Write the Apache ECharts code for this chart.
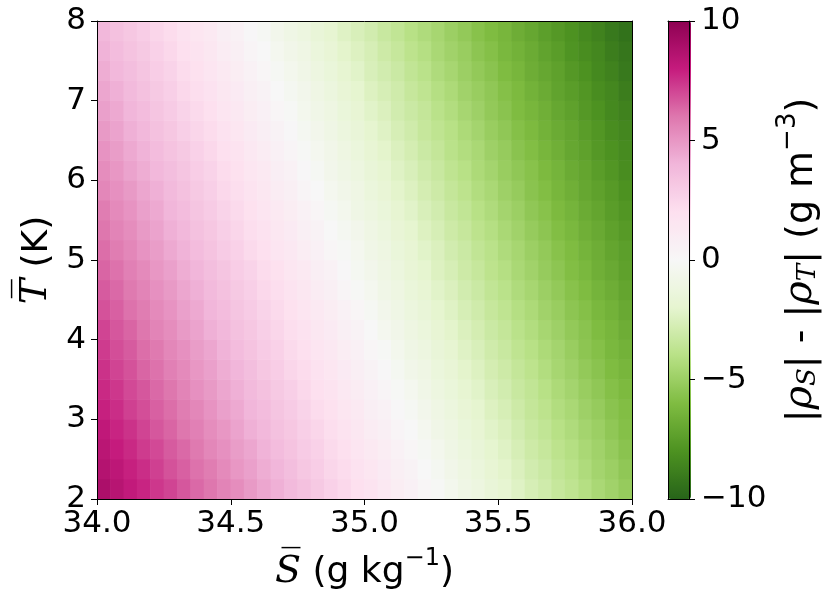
<!DOCTYPE html>
<html>
<head>
<meta charset="utf-8">
<script src="https://cdn.jsdelivr.net/npm/echarts@6/dist/echarts.min.js"></script>
<style>
html,body{margin:0;padding:0;background:#fff;}
#chart{width:822px;height:596px;}
</style>
</head>
<body>
<div id="chart"></div>
<script>
// Salinity cell centres (g kg-1)
const salinity = [34.025,34.075,34.125,34.175,34.225,34.275,34.325,34.375,34.425,34.475,
  34.525,34.575,34.625,34.675,34.725,34.775,34.825,34.875,34.925,34.975,
  35.025,35.075,35.125,35.175,35.225,35.275,35.325,35.375,35.425,35.475,
  35.525,35.575,35.625,35.675,35.725,35.775,35.825,35.875,35.925,35.975];
// Temperature cell centres (K)
const temperature = [2.125,2.375,2.625,2.875,3.125,3.375,3.625,3.875,4.125,4.375,4.625,4.875,
  5.125,5.375,5.625,5.875,6.125,6.375,6.625,6.875,7.125,7.375,7.625,7.875];
// |rho_S| - |rho_T| (g m-3); one row per temperature, one entry per salinity
const densityDiff = [
[8.9,8.5,8.1,7.8,7.4,7.1,6.7,6.3,6.0,5.6,5.3,4.9,4.5,4.2,3.8,3.5,3.1,2.7,2.4,2.0,1.7,1.3,0.9,0.6,0.2,-0.1,-0.5,-0.9,-1.2,-1.6,-1.9,-2.3,-2.7,-3.0,-3.4,-3.7,-4.1,-4.5,-4.8,-5.2],
[8.6,8.3,7.9,7.6,7.2,6.8,6.5,6.1,5.8,5.4,5.0,4.7,4.3,4.0,3.6,3.2,2.9,2.5,2.2,1.8,1.5,1.1,0.7,0.4,0.0,-0.3,-0.7,-1.1,-1.4,-1.8,-2.1,-2.5,-2.9,-3.2,-3.6,-3.9,-4.3,-4.7,-5.0,-5.4],
[8.4,8.0,7.7,7.3,7.0,6.6,6.3,5.9,5.5,5.2,4.8,4.5,4.1,3.7,3.4,3.0,2.7,2.3,2.0,1.6,1.2,0.9,0.5,0.2,-0.2,-0.5,-0.9,-1.3,-1.6,-2.0,-2.3,-2.7,-3.1,-3.4,-3.8,-4.1,-4.5,-4.8,-5.2,-5.6],
[8.2,7.8,7.5,7.1,6.7,6.4,6.0,5.7,5.3,5.0,4.6,4.2,3.9,3.5,3.2,2.8,2.5,2.1,1.7,1.4,1.0,0.7,0.3,0.0,-0.4,-0.8,-1.1,-1.5,-1.8,-2.2,-2.5,-2.9,-3.3,-3.6,-4.0,-4.3,-4.7,-5.0,-5.4,-5.8],
[7.9,7.6,7.2,6.9,6.5,6.2,5.8,5.5,5.1,4.7,4.4,4.0,3.7,3.3,3.0,2.6,2.2,1.9,1.5,1.2,0.8,0.5,0.1,-0.2,-0.6,-1.0,-1.3,-1.7,-2.0,-2.4,-2.7,-3.1,-3.5,-3.8,-4.2,-4.5,-4.9,-5.2,-5.6,-5.9],
[7.7,7.4,7.0,6.7,6.3,6.0,5.6,5.2,4.9,4.5,4.2,3.8,3.5,3.1,2.8,2.4,2.0,1.7,1.3,1.0,0.6,0.3,-0.1,-0.4,-0.8,-1.2,-1.5,-1.9,-2.2,-2.6,-2.9,-3.3,-3.6,-4.0,-4.4,-4.7,-5.1,-5.4,-5.8,-6.1],
[7.5,7.1,6.8,6.4,6.1,5.7,5.4,5.0,4.7,4.3,4.0,3.6,3.2,2.9,2.5,2.2,1.8,1.5,1.1,0.8,0.4,0.1,-0.3,-0.7,-1.0,-1.4,-1.7,-2.1,-2.4,-2.8,-3.1,-3.5,-3.8,-4.2,-4.6,-4.9,-5.3,-5.6,-6.0,-6.3],
[7.3,6.9,6.6,6.2,5.9,5.5,5.2,4.8,4.5,4.1,3.7,3.4,3.0,2.7,2.3,2.0,1.6,1.3,0.9,0.6,0.2,-0.1,-0.5,-0.9,-1.2,-1.6,-1.9,-2.3,-2.6,-3.0,-3.3,-3.7,-4.0,-4.4,-4.7,-5.1,-5.5,-5.8,-6.2,-6.5],
[7.1,6.7,6.4,6.0,5.6,5.3,4.9,4.6,4.2,3.9,3.5,3.2,2.8,2.5,2.1,1.8,1.4,1.1,0.7,0.4,0.0,-0.4,-0.7,-1.1,-1.4,-1.8,-2.1,-2.5,-2.8,-3.2,-3.5,-3.9,-4.2,-4.6,-4.9,-5.3,-5.6,-6.0,-6.3,-6.7],
[6.8,6.5,6.1,5.8,5.4,5.1,4.7,4.4,4.0,3.7,3.3,3.0,2.6,2.3,1.9,1.6,1.2,0.9,0.5,0.2,-0.2,-0.6,-0.9,-1.3,-1.6,-2.0,-2.3,-2.7,-3.0,-3.4,-3.7,-4.1,-4.4,-4.8,-5.1,-5.5,-5.8,-6.2,-6.5,-6.9],
[6.6,6.3,5.9,5.6,5.2,4.9,4.5,4.2,3.8,3.5,3.1,2.8,2.4,2.1,1.7,1.4,1.0,0.7,0.3,-0.1,-0.4,-0.8,-1.1,-1.5,-1.8,-2.2,-2.5,-2.9,-3.2,-3.6,-3.9,-4.3,-4.6,-5.0,-5.3,-5.7,-6.0,-6.4,-6.7,-7.1],
[6.4,6.1,5.7,5.4,5.0,4.7,4.3,4.0,3.6,3.3,2.9,2.6,2.2,1.9,1.5,1.2,0.8,0.5,0.1,-0.3,-0.6,-1.0,-1.3,-1.7,-2.0,-2.4,-2.7,-3.1,-3.4,-3.8,-4.1,-4.5,-4.8,-5.2,-5.5,-5.9,-6.2,-6.6,-6.9,-7.3],
[6.2,5.8,5.5,5.1,4.8,4.4,4.1,3.7,3.4,3.0,2.7,2.3,2.0,1.6,1.3,0.9,0.6,0.2,-0.1,-0.4,-0.8,-1.1,-1.5,-1.8,-2.2,-2.5,-2.9,-3.2,-3.6,-3.9,-4.3,-4.6,-5.0,-5.3,-5.7,-6.0,-6.4,-6.7,-7.1,-7.4],
[6.0,5.6,5.3,4.9,4.6,4.2,3.9,3.5,3.2,2.8,2.5,2.1,1.8,1.4,1.1,0.7,0.4,0.0,-0.3,-0.6,-1.0,-1.3,-1.7,-2.0,-2.4,-2.7,-3.1,-3.4,-3.8,-4.1,-4.5,-4.8,-5.2,-5.5,-5.9,-6.2,-6.6,-6.9,-7.3,-7.6],
[5.8,5.4,5.1,4.7,4.4,4.0,3.7,3.3,3.0,2.6,2.3,1.9,1.6,1.2,0.9,0.5,0.2,-0.2,-0.5,-0.9,-1.2,-1.5,-1.9,-2.2,-2.6,-2.9,-3.3,-3.6,-4.0,-4.3,-4.7,-5.0,-5.4,-5.7,-6.1,-6.4,-6.8,-7.1,-7.5,-7.8],
[5.5,5.2,4.9,4.5,4.2,3.8,3.5,3.1,2.8,2.4,2.1,1.7,1.4,1.0,0.7,0.3,0.0,-0.4,-0.7,-1.0,-1.4,-1.7,-2.1,-2.4,-2.8,-3.1,-3.5,-3.8,-4.2,-4.5,-4.9,-5.2,-5.6,-5.9,-6.3,-6.6,-7.0,-7.3,-7.6,-8.0],
[5.3,5.0,4.6,4.3,3.9,3.6,3.3,2.9,2.6,2.2,1.9,1.5,1.2,0.8,0.5,0.1,-0.2,-0.6,-0.9,-1.2,-1.6,-1.9,-2.3,-2.6,-3.0,-3.3,-3.7,-4.0,-4.4,-4.7,-5.1,-5.4,-5.7,-6.1,-6.4,-6.8,-7.1,-7.5,-7.8,-8.2],
[5.1,4.8,4.4,4.1,3.7,3.4,3.1,2.7,2.4,2.0,1.7,1.3,1.0,0.6,0.3,-0.1,-0.4,-0.7,-1.1,-1.4,-1.8,-2.1,-2.5,-2.8,-3.2,-3.5,-3.9,-4.2,-4.5,-4.9,-5.2,-5.6,-5.9,-6.3,-6.6,-7.0,-7.3,-7.7,-8.0,-8.3],
[4.9,4.6,4.2,3.9,3.5,3.2,2.8,2.5,2.2,1.8,1.5,1.1,0.8,0.4,0.1,-0.3,-0.6,-0.9,-1.3,-1.6,-2.0,-2.3,-2.7,-3.0,-3.4,-3.7,-4.0,-4.4,-4.7,-5.1,-5.4,-5.8,-6.1,-6.5,-6.8,-7.1,-7.5,-7.8,-8.2,-8.5],
[4.7,4.4,4.0,3.7,3.3,3.0,2.6,2.3,2.0,1.6,1.3,0.9,0.6,0.2,-0.1,-0.5,-0.8,-1.1,-1.5,-1.8,-2.2,-2.5,-2.9,-3.2,-3.5,-3.9,-4.2,-4.6,-4.9,-5.3,-5.6,-6.0,-6.3,-6.6,-7.0,-7.3,-7.7,-8.0,-8.4,-8.7],
[4.5,4.2,3.8,3.5,3.1,2.8,2.4,2.1,1.8,1.4,1.1,0.7,0.4,0.0,-0.3,-0.6,-1.0,-1.3,-1.7,-2.0,-2.4,-2.7,-3.0,-3.4,-3.7,-4.1,-4.4,-4.8,-5.1,-5.4,-5.8,-6.1,-6.5,-6.8,-7.2,-7.5,-7.8,-8.2,-8.5,-8.9],
[4.3,3.9,3.6,3.3,2.9,2.6,2.2,1.9,1.6,1.2,0.9,0.5,0.2,-0.2,-0.5,-0.8,-1.2,-1.5,-1.9,-2.2,-2.6,-2.9,-3.2,-3.6,-3.9,-4.3,-4.6,-5.0,-5.3,-5.6,-6.0,-6.3,-6.7,-7.0,-7.3,-7.7,-8.0,-8.4,-8.7,-9.1],
[4.1,3.7,3.4,3.1,2.7,2.4,2.0,1.7,1.4,1.0,0.7,0.3,0.0,-0.4,-0.7,-1.0,-1.4,-1.7,-2.1,-2.4,-2.7,-3.1,-3.4,-3.8,-4.1,-4.5,-4.8,-5.1,-5.5,-5.8,-6.2,-6.5,-6.8,-7.2,-7.5,-7.9,-8.2,-8.5,-8.9,-9.2],
[3.9,3.5,3.2,2.9,2.5,2.2,1.8,1.5,1.2,0.8,0.5,0.1,-0.2,-0.6,-0.9,-1.2,-1.6,-1.9,-2.3,-2.6,-2.9,-3.3,-3.6,-4.0,-4.3,-4.6,-5.0,-5.3,-5.7,-6.0,-6.3,-6.7,-7.0,-7.4,-7.7,-8.0,-8.4,-8.7,-9.1,-9.4]
];
// Tick labels
const xTicks = [34.0,34.5,35.0,35.5,36.0];
const yTicks = [2,3,4,5,6,7,8];
const cbTicks = [-10,-5,0,5,10];

const data = [];
densityDiff.forEach((r, j) => r.forEach((v, i) => data.push([salinity[i], temperature[j], v])));
const dS = salinity[1] - salinity[0];
const dT = temperature[1] - temperature[0];

const PiYG = ['#276419','#4d9221','#7fbc41','#b8e186','#e6f5d0','#f7f7f7','#fde0ef','#f1b6da','#de77ae','#c51b7d','#8e0152'];
const FS = 31;
const TFS = 36;
const FONT = 'DejaVu Sans';
const rich = {
  it: {fontFamily: 'DejaVu Serif', fontStyle: 'italic', fontSize: 38, color: '#000', lineHeight: 44, verticalAlign: 'bottom'},
  n: {fontFamily: FONT, fontSize: TFS, color: '#000', lineHeight: 44, verticalAlign: 'bottom'},
  sup: {fontFamily: FONT, fontSize: 24, color: '#000', lineHeight: 24, verticalAlign: 'top'},
  sub: {fontFamily: 'DejaVu Serif', fontStyle: 'italic', fontSize: 24, color: '#000', lineHeight: 28, verticalAlign: 'bottom'}
};
const richCb = {
  it: {fontFamily: 'DejaVu Serif', fontStyle: 'italic', fontSize: 40, color: '#000', lineHeight: 46, verticalAlign: 'bottom'},
  n: {fontFamily: FONT, fontSize: 38, color: '#000', lineHeight: 46, verticalAlign: 'bottom'},
  sup: {fontFamily: FONT, fontSize: 26, color: '#000', lineHeight: 26, verticalAlign: 'top'},
  sub: {fontFamily: 'DejaVu Serif', fontStyle: 'italic', fontSize: 26, color: '#000', lineHeight: 30, verticalAlign: 'bottom'}
};
const minus = v => String(v).replace('-', '\u2212');
const frameLine = {show: true, onZero: false, lineStyle: {color: '#000', width: 1}};

const chart = echarts.init(document.getElementById('chart'), null, {renderer: 'canvas'});
chart.setOption({
  animation: false,
  backgroundColor: '#fff',
  grid: [
    {left: 97, top: 21, width: 535, height: 478},
    {left: 668, top: 21, width: 23, height: 478}
  ],
  xAxis: [
    {type: 'value', gridIndex: 0, min: 34, max: 36, position: 'bottom', z: 10,
     axisLine: frameLine,
     axisTick: {show: true, length: 6, lineStyle: {color: '#000'}, customValues: xTicks},
     axisLabel: {fontSize: FS, fontFamily: FONT, color: '#000', margin: 9, customValues: xTicks, formatter: v => v.toFixed(1)},
     splitLine: {show: false},
     name: '{it|S\u0305}{n| (g kg}{sup|\u22121}{n|)}', nameLocation: 'middle', nameGap: 48,
     nameTextStyle: {rich: rich}},
    {type: 'value', gridIndex: 0, min: 34, max: 36, position: 'top', z: 10,
     axisLine: frameLine, axisTick: {show: false}, axisLabel: {show: false}, splitLine: {show: false}},
    {type: 'value', gridIndex: 1, min: 0, max: 1, position: 'bottom', z: 10,
     axisLine: frameLine, axisTick: {show: false}, axisLabel: {show: false}, splitLine: {show: false}},
    {type: 'value', gridIndex: 1, min: 0, max: 1, position: 'top', z: 10,
     axisLine: frameLine, axisTick: {show: false}, axisLabel: {show: false}, splitLine: {show: false}}
  ],
  yAxis: [
    {type: 'value', gridIndex: 0, min: 2, max: 8, position: 'left', z: 10,
     axisLine: frameLine,
     axisTick: {show: true, length: 6, lineStyle: {color: '#000'}, customValues: yTicks},
     axisLabel: {fontSize: FS, fontFamily: FONT, color: '#000', margin: 11, customValues: yTicks},
     splitLine: {show: false},
     name: '{it|T\u0305}{n| (K)}', nameLocation: 'middle', nameGap: 41, nameRotate: 90,
     nameTextStyle: {rich: rich}},
    {type: 'value', gridIndex: 0, min: 2, max: 8, position: 'right', z: 10,
     axisLine: frameLine, axisTick: {show: false}, axisLabel: {show: false}, splitLine: {show: false}},
    {type: 'value', gridIndex: 1, min: -10, max: 10, position: 'right', z: 10,
     axisLine: frameLine,
     axisTick: {show: true, length: 6, lineStyle: {color: '#000'}, customValues: cbTicks},
     axisLabel: {fontSize: FS, fontFamily: FONT, color: '#000', margin: 12, customValues: cbTicks, formatter: minus},
     splitLine: {show: false},
     name: '{n||}{it|\u03c1}{sub|S}{n|| - |}{it|\u03c1}{sub|T}{n|| (g m}{sup|\u22123}{n|)}',
     nameLocation: 'middle', nameGap: 86, nameRotate: 90,
     nameTextStyle: {rich: richCb}},
    {type: 'value', gridIndex: 1, min: -10, max: 10, position: 'left', z: 10,
     axisLine: frameLine, axisTick: {show: false}, axisLabel: {show: false}, splitLine: {show: false}}
  ],
  visualMap: {
    type: 'continuous', min: -10, max: 10, seriesIndex: 0, dimension: 2,
    orient: 'vertical', left: 668, top: 21, itemWidth: 23, itemHeight: 478,
    padding: 0, calculable: false, hoverLink: false, text: null, z: 1,
    inRange: {color: PiYG}
  },
  series: [{
    type: 'custom', xAxisIndex: 0, yAxisIndex: 0, clip: true, data: data,
    renderItem: function (params, api) {
      const s = api.value(0), t = api.value(1);
      const p0 = api.coord([s - dS / 2, t + dT / 2]);
      const p1 = api.coord([s + dS / 2, t - dT / 2]);
      return {type: 'rect',
        shape: {x: p0[0] - 0.3, y: p0[1] - 0.3, width: p1[0] - p0[0] + 0.6, height: p1[1] - p0[1] + 0.6},
        style: {fill: api.visual('color')}};
    }
  }]
});
</script>
</body>
</html>
